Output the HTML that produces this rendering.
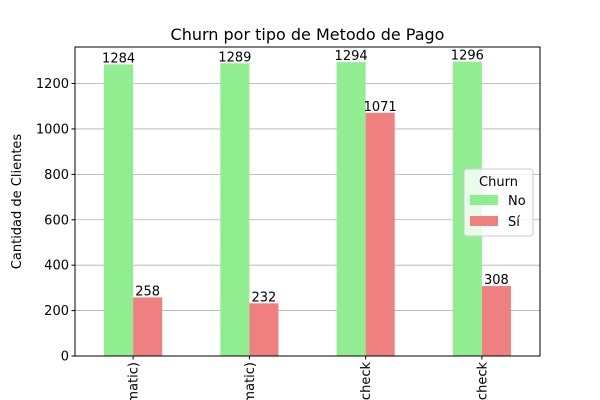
<!DOCTYPE html>
<html><head><meta charset="utf-8"><style>
html,body{margin:0;background:#fff;width:600px;height:400px;overflow:hidden;}
svg{display:block;font-family:"DejaVu Sans","Liberation Sans",sans-serif;overflow:hidden;}
</style></head><body>
<svg id="chart" width="600" height="400" viewBox="0 0 600 400">
<defs><clipPath id="frameclip"><rect x="0" y="0" width="600" height="400"/></clipPath></defs>
<rect x="0" y="0" width="600" height="400" fill="#fff"/>
<text x="307.5" y="40" text-anchor="middle" font-size="16">Churn por tipo de Metodo de Pago</text>
<g id="grid"></g>
<g id="bars"></g>
<g id="labels"></g>
<rect x="75" y="47" width="465" height="309" fill="none" stroke="#000" stroke-width="1"/>
<g id="yaxis"></g>
<g id="xaxis" clip-path="url(#frameclip)"></g>
<text transform="translate(21,201.5) rotate(-90)" text-anchor="middle" font-size="13">Cantidad de Clientes</text>
<g>
<rect x="464" y="169" width="69" height="67" rx="3" fill="#fff" fill-opacity="0.8" stroke="#ccc"/>
<text x="498.5" y="186" text-anchor="middle" font-size="13">Churn</text>
<rect x="470" y="195" width="28" height="10" fill="#90ee90"/>
<text x="508" y="205" font-size="13">No</text>
<rect x="470" y="216" width="28" height="10" fill="#f08080"/>
<text x="508" y="226" font-size="13">Sí</text>
</g>
</svg>
<script>
const categories = ["Bank transfer (automatic)", "Credit card (automatic)", "Electronic check", "Mailed check"];
const noValues = [1284, 1289, 1294, 1296];
const siValues = [258, 232, 1071, 308];
const yTicks = [0, 200, 400, 600, 800, 1000, 1200];

const NS = "http://www.w3.org/2000/svg";
const L = 75, R = 540, T = 47, B = 356;
const yMax = Math.max(...noValues, ...siValues) * 1.05;
const y = v => B - v / yMax * (B - T);
const step = (R - L) / categories.length;
const x = i => L + step * (i + 0.5);
const bw = step * 0.25;
function mk(tag, attrs, parent) {
  const e = document.createElementNS(NS, tag);
  for (const k in attrs) e.setAttribute(k, attrs[k]);
  document.getElementById(parent).appendChild(e);
  return e;
}
yTicks.forEach(t => {
  const g = mk("line", {x1: L, x2: R, y1: y(t), y2: y(t), stroke: "#b0b0b0", "stroke-width": 0.8}, "grid");
  
  
  const tk = mk("line", {x1: L - 3.5, x2: L, y1: y(t), y2: y(t), stroke: "#000"}, "yaxis");
  
  
  const tx = mk("text", {x: L - 6, y: y(t) + 4.5, "text-anchor": "end", "font-size": 13}, "yaxis");
  tx.textContent = t;
  
  
});
categories.forEach((c, i) => {
  const cx = x(i);
  const b1 = mk("rect", {x: cx - bw, y: y(noValues[i]), width: bw, height: B - y(noValues[i]), fill: "#90ee90"}, "bars");
  
  
  const b2 = mk("rect", {x: cx, y: y(siValues[i]), width: bw, height: B - y(siValues[i]), fill: "#f08080"}, "bars");
  
  
  const l1 = mk("text", {x: cx - bw / 2, y: y(noValues[i]) - 2, "text-anchor": "middle", "font-size": 13}, "labels");
  l1.textContent = noValues[i];
  
  
  const l2 = mk("text", {x: cx + bw / 2, y: y(siValues[i]) - 2, "text-anchor": "middle", "font-size": 13}, "labels");
  l2.textContent = siValues[i];
  
  
  const tk = mk("line", {x1: cx, x2: cx, y1: B, y2: B + 3.5, stroke: "#000"}, "xaxis");
  
  
  const tx = mk("text", {transform: `translate(${cx + 4.5},${B + 6}) rotate(-90)`, "text-anchor": "end", "font-size": 13}, "xaxis");
  tx.textContent = c;
  
  
});
</script>
</body></html>
